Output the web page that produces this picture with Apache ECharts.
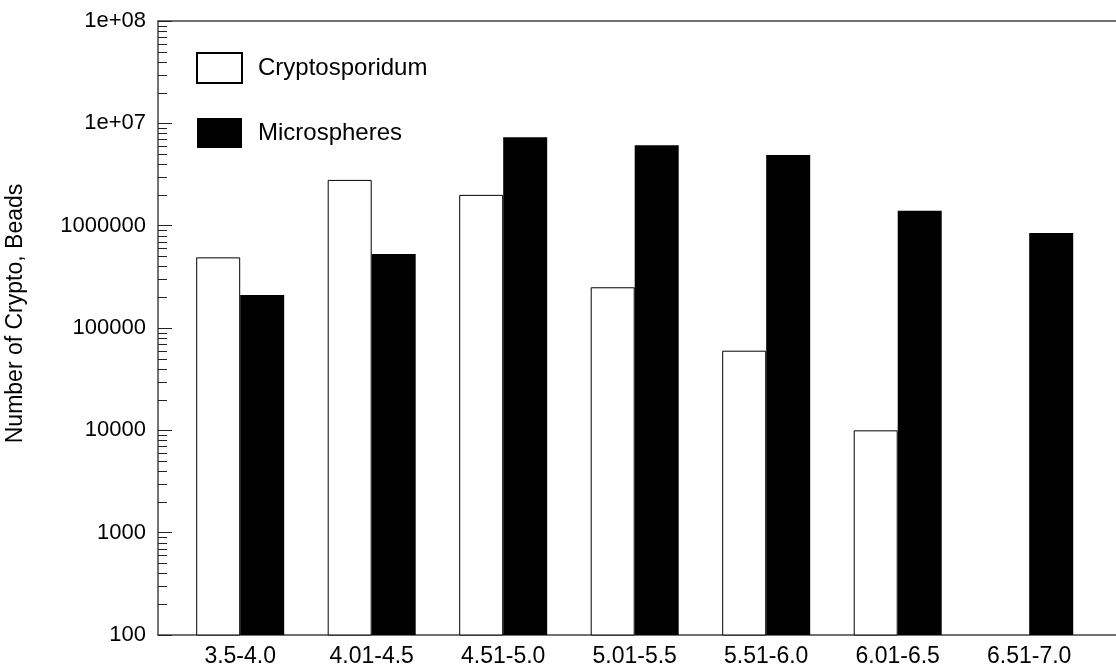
<!DOCTYPE html>
<html>
<head>
<meta charset="utf-8">
<script src="https://cdn.jsdelivr.net/npm/echarts@6/dist/echarts.min.js"></script>
<style>
html,body{margin:0;padding:0;background:#fff;}
#chart{width:1116px;height:671px;}
</style>
</head>
<body>
<div id="chart"></div>
<script>
const categories = ['3.5-4.0','4.01-4.5','4.51-5.0','5.01-5.5','5.51-6.0','6.01-6.5','6.51-7.0'];
const cryptoValues = [490000, 2800000, 2000000, 250000, 60000, 10000, null];
const microValues = [210000, 530000, 7300000, 6100000, 4900000, 1400000, 850000];
const yTickLabels = ['100','1000','10000','100000','1000000','1e+07','1e+08'];
const yAxisTitle = 'Number of Crypto, Beads';
const seriesNames = ['Cryptosporidum','Microspheres'];

const X_MIN = 0.375, X_MAX = 7.66, X_STEP = 0.125;
const Y_MIN = 100, Y_MAX = 1e8;
const FONT = 'Liberation Sans, Arial, Helvetica, sans-serif';

// minor tick values (2..9 x each decade) for the log axis
const minorTicks = [];
for (let e = 2; e < 8; e++) {
  for (let m = 2; m <= 9; m++) minorTicks.push([X_MIN, m * Math.pow(10, e)]);
}

const chart = echarts.init(document.getElementById('chart'), null, {renderer: 'canvas'});
chart.setOption({
  animation: false,
  backgroundColor: '#fff',
  grid: {left: 158, right: 0, top: 21, bottom: 36, containLabel: false, outerBoundsMode: 'none'},
  legend: {
    orient: 'vertical', left: 196, top: 52, padding: 0,
    itemWidth: 45, itemHeight: 30, itemGap: 34,
    icon: 'rect',
    data: seriesNames,
    textStyle: {fontSize: 24, fontFamily: FONT, color: '#000', padding: [0, 0, 0, 11]}
  },
  xAxis: [{
    type: 'value', min: X_MIN, max: X_MAX, interval: X_STEP,
    splitLine: {show: false},
    axisTick: {show: false},
    axisLine: {lineStyle: {color: '#444', width: 1.5}},
    axisLabel: {
      fontSize: 23, fontFamily: FONT, color: '#000', margin: 10,
      showMinLabel: false, showMaxLabel: false,
      formatter: function (v) {
        const i = Math.round(v);
        if (Math.abs(v - i) < 1e-6 && i >= 1 && i <= categories.length) return categories[i - 1];
        return '';
      }
    }
  }, {
    type: 'value', position: 'top', min: X_MIN, max: X_MAX,
    splitLine: {show: false}, axisTick: {show: false}, axisLabel: {show: false},
    axisLine: {show: true, lineStyle: {color: '#444', width: 1.5}}
  }],
  yAxis: {
    type: 'log', logBase: 10, min: Y_MIN, max: Y_MAX, interval: 1,
    name: yAxisTitle, nameLocation: 'middle', nameGap: 131,
    nameTextStyle: {fontSize: 23, fontFamily: FONT, color: '#000', padding: [0, 0, 0, 29]},
    splitLine: {show: false},
    axisLine: {show: true, lineStyle: {color: '#444', width: 1.5}},
    axisTick: {show: true, inside: true, length: 14, lineStyle: {color: '#222'}},
    axisLabel: {
      fontSize: 22, fontFamily: FONT, color: '#000', margin: 12,
      formatter: function (v) {
        const i = Math.round(Math.log10(v)) - 2;
        return yTickLabels[i] !== undefined ? yTickLabels[i] : '';
      }
    }
  },
  series: [{
    name: seriesNames[0], type: 'bar', barWidth: 44, barGap: '0%', clip: true,
    itemStyle: {color: '#fff', borderColor: '#000', borderWidth: 1},
    data: categories.map((c, i) => [i + 1, cryptoValues[i] == null ? '-' : cryptoValues[i]])
  }, {
    name: seriesNames[1], type: 'bar', barWidth: 44, barGap: '0%', clip: true,
    itemStyle: {color: '#000'},
    data: categories.map((c, i) => [i + 1, microValues[i]])
  }, {
    type: 'custom', silent: true, z: 5,
    renderItem: function (params, api) {
      const p = api.coord([api.value(0), api.value(1)]);
      const x0 = params.coordSys.x;
      return {
        type: 'line',
        shape: {x1: x0, y1: Math.round(p[1]) + 0.5, x2: x0 + 9, y2: Math.round(p[1]) + 0.5},
        style: {stroke: '#222', lineWidth: 1}
      };
    },
    data: minorTicks
  }]
});
</script>
</body>
</html>
